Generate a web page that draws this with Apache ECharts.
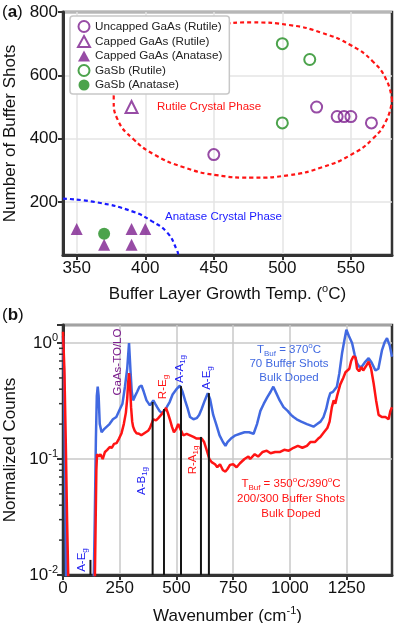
<!DOCTYPE html>
<html>
<head>
<meta charset="utf-8">
<script src="https://cdn.jsdelivr.net/npm/echarts@6/dist/echarts.min.js"></script>
<style>
  html, body { margin: 0; padding: 0; background: #fff; }
  #chart { width: 397px; height: 623px; }
</style>
</head>
<body>
<div id="chart"></div>
<script>
var FONT = '"Liberation Sans", Arial, sans-serif';
var PURPLE = '#7d1f8e', GREEN = '#1f8c1f', RED = '#ff1414', BLUE = '#4169e1', LBL_BLUE = '#1c1cf0', AXIS = '#333';

// ---- panel (a): growth temperature vs buffer shots ----
var tempTicks = [350, 400, 450, 500, 550];
var shotTicks = [200, 400, 600, 800];
var uncappedRutile = [[450, 350], [525, 500], [540, 470], [545, 470], [550, 470], [565, 450]];
var cappedRutile = [[390, 500]];
var cappedAnatase = [[350, 115], [370, 65], [390, 115], [400, 115], [390, 65]];
var gasbRutile = [[500, 700], [520, 650], [500, 450]];
var gasbAnatase = [[370, 100]];
// hand-read outline of the dashed phase regions
var rutileBoundary = [[580, 522], [576, 585], [566, 644], [550, 695], [529, 734], [505, 759], [478, 767],
  [452, 759], [428, 734], [407, 695], [391, 644], [380, 585], [377, 522], [380, 459], [391, 400],
  [407, 349], [428, 310], [452, 285], [478, 277], [505, 285], [529, 310], [550, 349], [566, 400],
  [576, 459], [580, 522]];
var anataseBoundary = [[340, 211], [365, 199], [391, 170], [405, 139], [416, 104], [423, 50], [424, 35]];

// ---- panel (b): Raman spectra ----
var waveTicks = [0, 250, 500, 750, 1000, 1250];
var blueSpectrum = [[0, 1.15], [5, 0.5], [10, 0.05], [14, 0.008], [135, 0.008], [140, 0.03], [145, 0.15], [149, 0.35],
  [153, 0.42], [157, 0.35], [162, 0.2], [170, 0.17], [180, 0.18], [193, 0.19], [205, 0.2], [220, 0.22], [235, 0.23],
  [251, 0.27], [262, 0.3], [273, 0.42], [283, 0.6], [291, 1.0], [297, 0.6], [303, 0.38], [309, 0.32], [318, 0.35],
  [327, 0.38], [337, 0.42], [346, 0.43], [356, 0.38], [368, 0.32], [383, 0.29], [390, 0.3], [398, 0.32], [406, 0.3],
  [415, 0.28], [425, 0.26], [435, 0.25], [446, 0.26], [457, 0.28], [470, 0.31], [483, 0.36], [500, 0.4], [515, 0.43],
  [527, 0.38], [538, 0.32], [550, 0.27], [560, 0.23], [575, 0.22], [589, 0.225], [600, 0.24], [611, 0.27], [625, 0.32],
  [638, 0.37], [648, 0.33], [662, 0.24], [675, 0.2], [690, 0.16], [705, 0.14], [716, 0.13], [725, 0.14], [740, 0.15],
  [760, 0.16], [780, 0.165], [800, 0.17], [820, 0.17], [840, 0.165], [855, 0.2], [870, 0.26], [885, 0.3], [900, 0.34],
  [915, 0.38], [927, 0.42], [940, 0.37], [955, 0.32], [972, 0.28], [990, 0.26], [1005, 0.24], [1016, 0.23], [1030, 0.22],
  [1050, 0.21], [1075, 0.2], [1090, 0.195], [1104, 0.19], [1120, 0.2], [1135, 0.21], [1148, 0.23], [1160, 0.27],
  [1170, 0.33], [1178, 0.37], [1190, 0.38], [1207, 0.42], [1218, 0.55], [1230, 0.82], [1240, 1.05], [1249, 1.3],
  [1260, 1.15], [1274, 1.0], [1285, 0.8], [1296, 0.67], [1307, 0.62], [1318, 0.63], [1330, 0.68], [1347, 0.74],
  [1360, 0.68], [1377, 0.58], [1390, 0.6], [1406, 0.87], [1418, 1.02], [1428, 1.1], [1440, 0.95], [1450, 0.76]];
var redSpectrum = [[0, 1.25], [6, 0.6], [12, 0.15], [18, 0.03], [24, 0.008], [140, 0.008], [144, 0.03], [147, 0.08],
  [150, 0.11], [158, 0.105], [165, 0.11], [175, 0.1], [185, 0.115], [195, 0.12], [206, 0.127], [215, 0.125],
  [225, 0.135], [236, 0.137], [247, 0.15], [258, 0.167], [268, 0.2], [277, 0.25], [283, 0.33], [287, 0.45], [291, 0.55],
  [295, 0.45], [300, 0.28], [305, 0.21], [309, 0.19], [316, 0.175], [324, 0.167], [335, 0.165], [345, 0.16],
  [353, 0.16], [365, 0.17], [375, 0.175], [383, 0.185], [390, 0.2], [398, 0.22], [410, 0.215], [420, 0.225],
  [427, 0.23], [440, 0.25], [447, 0.26], [454, 0.275], [462, 0.25], [471, 0.22], [480, 0.19], [489, 0.17], [498, 0.18],
  [508, 0.2], [518, 0.18], [530, 0.16], [545, 0.165], [560, 0.16], [575, 0.155], [589, 0.15], [600, 0.15], [611, 0.15],
  [622, 0.14], [633, 0.12], [645, 0.1], [655, 0.094], [670, 0.09], [680, 0.085], [692, 0.09], [705, 0.08], [716, 0.078],
  [725, 0.082], [736, 0.089], [750, 0.09], [765, 0.085], [780, 0.092], [800, 0.1], [817, 0.105], [825, 0.1],
  [845, 0.11], [860, 0.105], [880, 0.115], [898, 0.118], [915, 0.112], [935, 0.115], [957, 0.115], [975, 0.12],
  [995, 0.118], [1016, 0.125], [1035, 0.13], [1055, 0.125], [1075, 0.13], [1090, 0.14], [1110, 0.14], [1125, 0.15],
  [1134, 0.155], [1150, 0.17], [1165, 0.185], [1175, 0.21], [1185, 0.28], [1193, 0.32], [1200, 0.3], [1208, 0.35],
  [1215, 0.34], [1222, 0.44], [1235, 0.5], [1245, 0.56], [1252, 0.58], [1262, 0.6], [1270, 0.7], [1280, 0.77],
  [1289, 0.75], [1296, 0.6], [1305, 0.57], [1315, 0.62], [1323, 0.58], [1335, 0.63], [1347, 0.69], [1358, 0.6],
  [1369, 0.45], [1380, 0.32], [1391, 0.24], [1405, 0.23], [1421, 0.23], [1435, 0.22], [1443, 0.26], [1450, 0.28]];
// mode positions (cm-1) and how high their marker line reaches
var peakWave = [121, 395, 445, 520, 608, 643];
var peakTop = [0.0135, 0.31, 0.27, 0.425, 0.155, 0.37];
var minorTicks = [0.02, 0.03, 0.04, 0.05, 0.06, 0.07, 0.08, 0.09, 0.2, 0.3, 0.4, 0.5, 0.6, 0.7, 0.8, 0.9];
var countMin = 0.01, countMax = 1.43;

var chart = echarts.init(document.getElementById('chart'), null, { renderer: 'canvas' });

function txt(size, color, extra) {
  var s = { fontSize: size, fill: color, fontFamily: FONT };
  for (var k in extra) s[k] = extra[k];
  return s;
}
// rotated peak label with subscript
function peakLabel(x, y, main, sub, color) {
  return {
    type: 'text', x: x, y: y, rotation: Math.PI / 2, z: 100,
    style: {
      text: '{t|' + main + '}' + (sub ? '{s|' + sub + '}' : ''),
      align: 'center', verticalAlign: 'middle',
      rich: { t: txt(11.5, color, { lineHeight: 14 }), s: txt(8, color, { verticalAlign: 'bottom' }) }
    }
  };
}
function plainLabel(x, y, text, color, align) {
  return {
    type: 'text', x: x, y: y, z: 100,
    style: {
      text: text, align: align || 'left', verticalAlign: 'middle',
      rich: {
        t: txt(11.5, color, { lineHeight: 16 }),
        s: txt(8, color, { verticalAlign: 'bottom' }),
        p: txt(8, color, { verticalAlign: 'top' })
      }
    }
  };
}

var axisLbl = { fontSize: 17, color: '#111', fontFamily: FONT };
var axisName = { fontSize: 17, color: '#111', fontFamily: FONT };

var option = {
  animation: false,
  backgroundColor: '#fff',
  textStyle: { fontFamily: FONT },
  grid: [
    { left: 63, top: 12, width: 329, height: 243, show: true, borderColor: AXIS, borderWidth: 2.5, outerBoundsMode: 'none', containLabel: false },
    { left: 63, top: 325, width: 329, height: 250, show: true, borderColor: AXIS, borderWidth: 2.5, outerBoundsMode: 'none', containLabel: false }
  ],
  legend: {
    orient: 'vertical', left: 70, top: 16,
    data: ['Uncapped GaAs (Rutile)', 'Capped GaAs (Rutile)', 'Capped GaAs (Anatase)', 'GaSb (Rutile)', 'GaSb (Anatase)'],
    itemWidth: 12, itemHeight: 11, itemGap: 2,
    padding: [4, 7, 3, 7],
    backgroundColor: '#fff', borderColor: '#c8c8c8', borderWidth: 1.5, borderRadius: 3,
    textStyle: { fontSize: 11.7, color: '#222', fontFamily: FONT },
    selectedMode: false
  },
  xAxis: [
    {
      type: 'value', gridIndex: 0, min: 340, max: 580,
      axisLine: { show: true, lineStyle: { color: AXIS, width: 3 } },
      axisTick: { customValues: tempTicks, length: 5, lineStyle: { color: AXIS, width: 2 } },
      axisLabel: Object.assign({ customValues: tempTicks, margin: 5 }, axisLbl),
      splitLine: { show: true, lineStyle: { color: '#e4e4e4', width: 1.5 } },
      name: 'Buffer Layer Growth Temp. ({p|o}C)', nameLocation: 'middle', nameGap: 28,
      nameTextStyle: Object.assign({ lineHeight: 22, rich: { p: { fontSize: 11, color: '#111', fontFamily: FONT, verticalAlign: 'top' } } }, axisName)
    },
    {
      type: 'value', gridIndex: 1, min: 0, max: 1450,
      axisLine: { show: true, lineStyle: { color: AXIS, width: 3 } },
      axisTick: { customValues: waveTicks, length: 5, lineStyle: { color: AXIS, width: 2 } },
      axisLabel: Object.assign({ customValues: waveTicks, margin: 5, formatter: function (v) { return String(v); } }, axisLbl),
      splitLine: { show: true, lineStyle: { color: '#c9c9c9', width: 1.5 } },
      name: 'Wavenumber (cm{p|-1})', nameLocation: 'middle', nameGap: 30,
      nameTextStyle: Object.assign({ lineHeight: 22, rich: { p: { fontSize: 11, color: '#111', fontFamily: FONT, verticalAlign: 'top' } } }, axisName)
    }
  ],
  yAxis: [
    {
      type: 'value', gridIndex: 0, min: 33, max: 800,
      axisLine: { show: true, lineStyle: { color: AXIS, width: 3 } },
      axisTick: { customValues: shotTicks, length: 5, lineStyle: { color: AXIS, width: 2 } },
      axisLabel: Object.assign({ customValues: shotTicks, margin: 5 }, axisLbl),
      splitLine: { show: true, lineStyle: { color: '#e4e4e4', width: 1.5 } },
      name: 'Number of Buffer Shots', nameLocation: 'middle', nameGap: 37, nameTextStyle: axisName
    },
    {
      type: 'log', gridIndex: 1, logBase: 10, min: countMin, max: countMax,
      axisLine: { show: true, lineStyle: { color: AXIS, width: 3 } },
      axisTick: { length: 6, lineStyle: { color: AXIS, width: 2 } },
      axisLabel: {
        margin: 5,
        formatter: function (v) {
          var e = Math.log10(v), r = Math.round(e);
          if (Math.abs(e - r) > 1e-6) return '';
          return '{b|10}{p|' + r + '}';
        },
        rich: {
          b: { fontSize: 17, color: '#111', fontFamily: FONT, lineHeight: 22 },
          p: { fontSize: 11, color: '#111', fontFamily: FONT, verticalAlign: 'top' }
        }
      },
      splitLine: { show: true, lineStyle: { color: '#c9c9c9', width: 1.5 } },
      name: 'Normalized Counts', nameLocation: 'middle', nameGap: 37, nameTextStyle: axisName
    }
  ],
  series: [
    {
      type: 'line', name: 'rutile-region', xAxisIndex: 0, yAxisIndex: 0, data: rutileBoundary,
      smooth: true, showSymbol: false, silent: true, z: 1,
      lineStyle: { color: RED, width: 2.2, type: [4, 3] }
    },
    {
      type: 'line', name: 'anatase-region', xAxisIndex: 0, yAxisIndex: 0, data: anataseBoundary,
      smooth: true, showSymbol: false, silent: true, z: 1,
      lineStyle: { color: '#1a1aff', width: 2.2, type: [4, 3] }
    },
    {
      type: 'scatter', name: 'Uncapped GaAs (Rutile)', xAxisIndex: 0, yAxisIndex: 0, data: uncappedRutile,
      symbol: 'circle', symbolSize: 11, itemStyle: { color: 'rgba(0,0,0,0)', borderColor: PURPLE, borderWidth: 2 }
    },
    {
      type: 'scatter', name: 'Capped GaAs (Rutile)', xAxisIndex: 0, yAxisIndex: 0, data: cappedRutile,
      symbol: 'triangle', symbolSize: 12, itemStyle: { color: 'rgba(0,0,0,0)', borderColor: PURPLE, borderWidth: 2 }
    },
    {
      type: 'scatter', name: 'Capped GaAs (Anatase)', xAxisIndex: 0, yAxisIndex: 0, data: cappedAnatase,
      symbol: 'triangle', symbolSize: 12, itemStyle: { color: PURPLE }
    },
    {
      type: 'scatter', name: 'GaSb (Rutile)', xAxisIndex: 0, yAxisIndex: 0, data: gasbRutile,
      symbol: 'circle', symbolSize: 11, itemStyle: { color: 'rgba(0,0,0,0)', borderColor: GREEN, borderWidth: 2 }
    },
    {
      type: 'scatter', name: 'GaSb (Anatase)', xAxisIndex: 0, yAxisIndex: 0, data: gasbAnatase,
      symbol: 'circle', symbolSize: 12, itemStyle: { color: GREEN }
    },
    {
      type: 'line', name: 'T370', xAxisIndex: 1, yAxisIndex: 1, data: blueSpectrum,
      showSymbol: false, clip: true, z: 3, lineStyle: { color: BLUE, width: 2.5 }
    },
    {
      type: 'line', name: 'T350/390', xAxisIndex: 1, yAxisIndex: 1, data: redSpectrum,
      showSymbol: false, clip: true, z: 4, lineStyle: { color: RED, width: 2.5 }
    },
    {
      type: 'custom', name: 'modes', xAxisIndex: 1, yAxisIndex: 1, z: 5,
      data: peakWave.map(function (w, i) { return [w, peakTop[i]]; }),
      renderItem: function (params, api) {
        var p0 = api.coord([api.value(0), countMin]);
        var p1 = api.coord([api.value(0), api.value(1)]);
        return { type: 'line', shape: { x1: p0[0], y1: p0[1], x2: p1[0], y2: p1[1] }, style: { stroke: '#151515', lineWidth: 2 } };
      }
    },
    {
      type: 'custom', name: 'minor-ticks', xAxisIndex: 1, yAxisIndex: 1, z: 5, clip: false,
      data: minorTicks.map(function (v) { return [0, v]; }),
      renderItem: function (params, api) {
        var p = api.coord([0, api.value(1)]);
        return { type: 'line', shape: { x1: p[0] - 4, y1: p[1], x2: p[0], y2: p[1] }, style: { stroke: AXIS, lineWidth: 1.5 } };
      }
    }
  ],
  graphic: [
    { type: 'text', x: 2, y: 12, z: 100, style: { text: '{n|(}{b|a}{n|)}', verticalAlign: 'middle',
      rich: { n: txt(17, '#111'), b: txt(17, '#111', { fontWeight: 'bold' }) } } },
    { type: 'text', x: 2, y: 315, z: 100, style: { text: '{n|(}{b|b}{n|)}', verticalAlign: 'middle',
      rich: { n: txt(17, '#111'), b: txt(17, '#111', { fontWeight: 'bold' }) } } },
    plainLabel(157, 107, '{t|Rutile Crystal Phase}', RED),
    plainLabel(165, 217, '{t|Anatase Crystal Phase}', '#1a1aff'),
    plainLabel(289, 350, '{t|T}{s|Buf}{t| = 370}{p|o}{t|C}', BLUE, 'center'),
    plainLabel(289, 364, '{t|70 Buffer Shots}', BLUE, 'center'),
    plainLabel(289, 378, '{t|Bulk Doped}', BLUE, 'center'),
    plainLabel(291, 484, '{t|T}{s|Buf}{t| = 350}{p|o}{t|C/390}{p|o}{t|C}', RED, 'center'),
    plainLabel(291, 499, '{t|200/300 Buffer Shots}', RED, 'center'),
    plainLabel(291, 514, '{t|Bulk Doped}', RED, 'center'),
    peakLabel(82, 560, 'A-E', 'g', LBL_BLUE),
    peakLabel(118, 362, 'GaAs-TO/LO', '', PURPLE),
    peakLabel(163, 387, 'R-E', 'g', RED),
    peakLabel(180, 369, 'A-A', '1g', LBL_BLUE),
    peakLabel(207, 378, 'A-E', 'g', LBL_BLUE),
    peakLabel(142, 481, 'A-B', '1g', LBL_BLUE),
    peakLabel(193, 460, 'R-A', '1g', RED)
  ]
};

option && chart.setOption(option);
</script>
</body>
</html>
